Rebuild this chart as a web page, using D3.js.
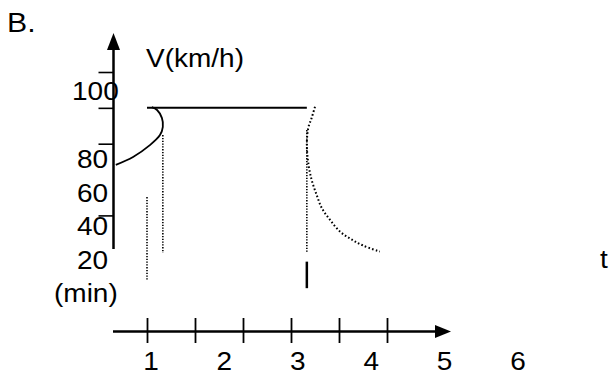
<!DOCTYPE html>
<html>
<head>
<meta charset="utf-8">
<script src="https://cdn.jsdelivr.net/npm/d3@7"></script>
<style>
  html, body { margin: 0; padding: 0; background: #fff; }
  svg { display: block; }
  text { font-family: "Liberation Sans", Arial, sans-serif; fill: #000; }
</style>
</head>
<body>
<svg id="chart" width="610" height="375"></svg>
<script>
// Speed (km/h) against time: cruise at 90, ramp-up arc, dotted slow-down curve
const vTicks = [100, 90, 80, 60];
const tTicks = [1, 2, 3, 4, 5, 6];
const tLabels = ["1", "2", "3", "4", "5", "6"];
const vTopLabel = ["100"];
const vLabels = ["80", "60", "40", "20", "(min)"];

// ramp-up arc (t, V)
const rampT = [0.35, 0.71, 1.06, 1.27, 1.33, 1.31, 1.21, 1.10];
const rampV = [74.1, 76.3, 79.6, 82.4, 84.7, 87.2, 89.4, 90.2];

// cruise segment
const cruiseT = [1.0, 4.33];
const cruiseV = [90, 90];

// dotted slow-down curve
const decayT = [4.50, 4.43, 4.36, 4.33, 4.36, 4.43, 4.535, 4.64, 4.81, 5.02, 5.26, 5.50, 5.85];
const decayV = [90.3, 87.2, 84.4, 80.0, 74.6, 69.9, 65.7, 62.1, 58.8, 55.5, 53.3, 51.6, 49.9];

// dotted guide lines [t, V from, V to]
const guides = [
  [1.33, 82.4, 49.5],
  [1.00, 65.1, 42.0],
  [4.33, 83.8, 49.8]
];
// solid marker below the slow-down
const marker = [4.33, 47.1, 39.7];

const svg = d3.select("#chart");

const x = d3.scaleLinear().domain([1, 6]).range([147, 387]);
const y = d3.scaleLinear().domain([60, 100]).range([215.4, 72.0]);
const xLab = d3.scalePoint().domain(tLabels).range([151, 518]);
const yLab = d3.scalePoint().domain(vLabels).range([168, 302]);

const FS = 25, SX = 1.12;
function label(str, px, py, anchor, size) {
  svg.append("text")
    .attr("transform", `translate(${px},${py}) scale(${SX},1)`)
    .attr("text-anchor", anchor || "start")
    .attr("font-size", size || FS)
    .text(str);
}

// panel letter and axis title
label("B.", 7, 32, "start", 27);
label("V(km/h)", 146, 67);
label("t", 600, 268);

// vertical axis with arrow
svg.append("line").attr("x1", 113.5).attr("x2", 113.5).attr("y1", 48).attr("y2", 249)
  .attr("stroke", "#000").attr("stroke-width", 2.5);
svg.append("path").attr("d", "M113.5,33 L107,50 L120,50 Z").attr("fill", "#000");

const yAxis = d3.axisLeft(y).tickValues(vTicks).tickSize(15).tickFormat("");
const gy = svg.append("g").attr("transform", "translate(113.5,0)").call(yAxis);
gy.select(".domain").remove();
gy.selectAll(".tick line").attr("stroke", "#000").attr("stroke-width", 1.6);

// vertical axis labels
label(vTopLabel[0], 72, 100);
vLabels.forEach(d => label(d, d === "(min)" ? 54 : 77, yLab(d)));

// horizontal axis with arrow
svg.append("line").attr("x1", 113).attr("x2", 437).attr("y1", 331.5).attr("y2", 331.5)
  .attr("stroke", "#000").attr("stroke-width", 2.5);
svg.append("path").attr("d", "M451,331.5 L435,325 L435,338 Z").attr("fill", "#000");

const xAxis = d3.axisBottom(x).tickValues(tTicks).tickSize(25).tickFormat("");
const gx = svg.append("g").attr("transform", "translate(0,318)").call(xAxis);
gx.select(".domain").remove();
gx.selectAll(".tick line").attr("stroke", "#000").attr("stroke-width", 1.8);

tLabels.forEach(d => label(d, xLab(d), 370, "middle"));

// data marks
const line = d3.line().x(d => x(d[0])).y(d => y(d[1]));
const smooth = d3.line().x(d => x(d[0])).y(d => y(d[1])).curve(d3.curveCatmullRom.alpha(0.5));

svg.append("path")
  .attr("d", line(cruiseT.map((t, i) => [t, cruiseV[i]])))
  .attr("fill", "none").attr("stroke", "#000").attr("stroke-width", 2);

svg.append("path")
  .attr("d", smooth(rampT.map((t, i) => [t, rampV[i]])))
  .attr("fill", "none").attr("stroke", "#000").attr("stroke-width", 1.8);

svg.append("path")
  .attr("d", smooth(decayT.map((t, i) => [t, decayV[i]])))
  .attr("fill", "none").attr("stroke", "#000").attr("stroke-width", 2)
  .attr("stroke-dasharray", "1.6 2.2");

guides.forEach(g => {
  svg.append("line")
    .attr("x1", x(g[0])).attr("x2", x(g[0]))
    .attr("y1", y(g[1])).attr("y2", y(g[2]))
    .attr("stroke", "#000").attr("stroke-width", 1.6)
    .attr("stroke-dasharray", "1.3 1.5");
});

svg.append("line")
  .attr("x1", x(marker[0])).attr("x2", x(marker[0]))
  .attr("y1", y(marker[1])).attr("y2", y(marker[2]))
  .attr("stroke", "#000").attr("stroke-width", 2.5);
</script>
</body>
</html>
